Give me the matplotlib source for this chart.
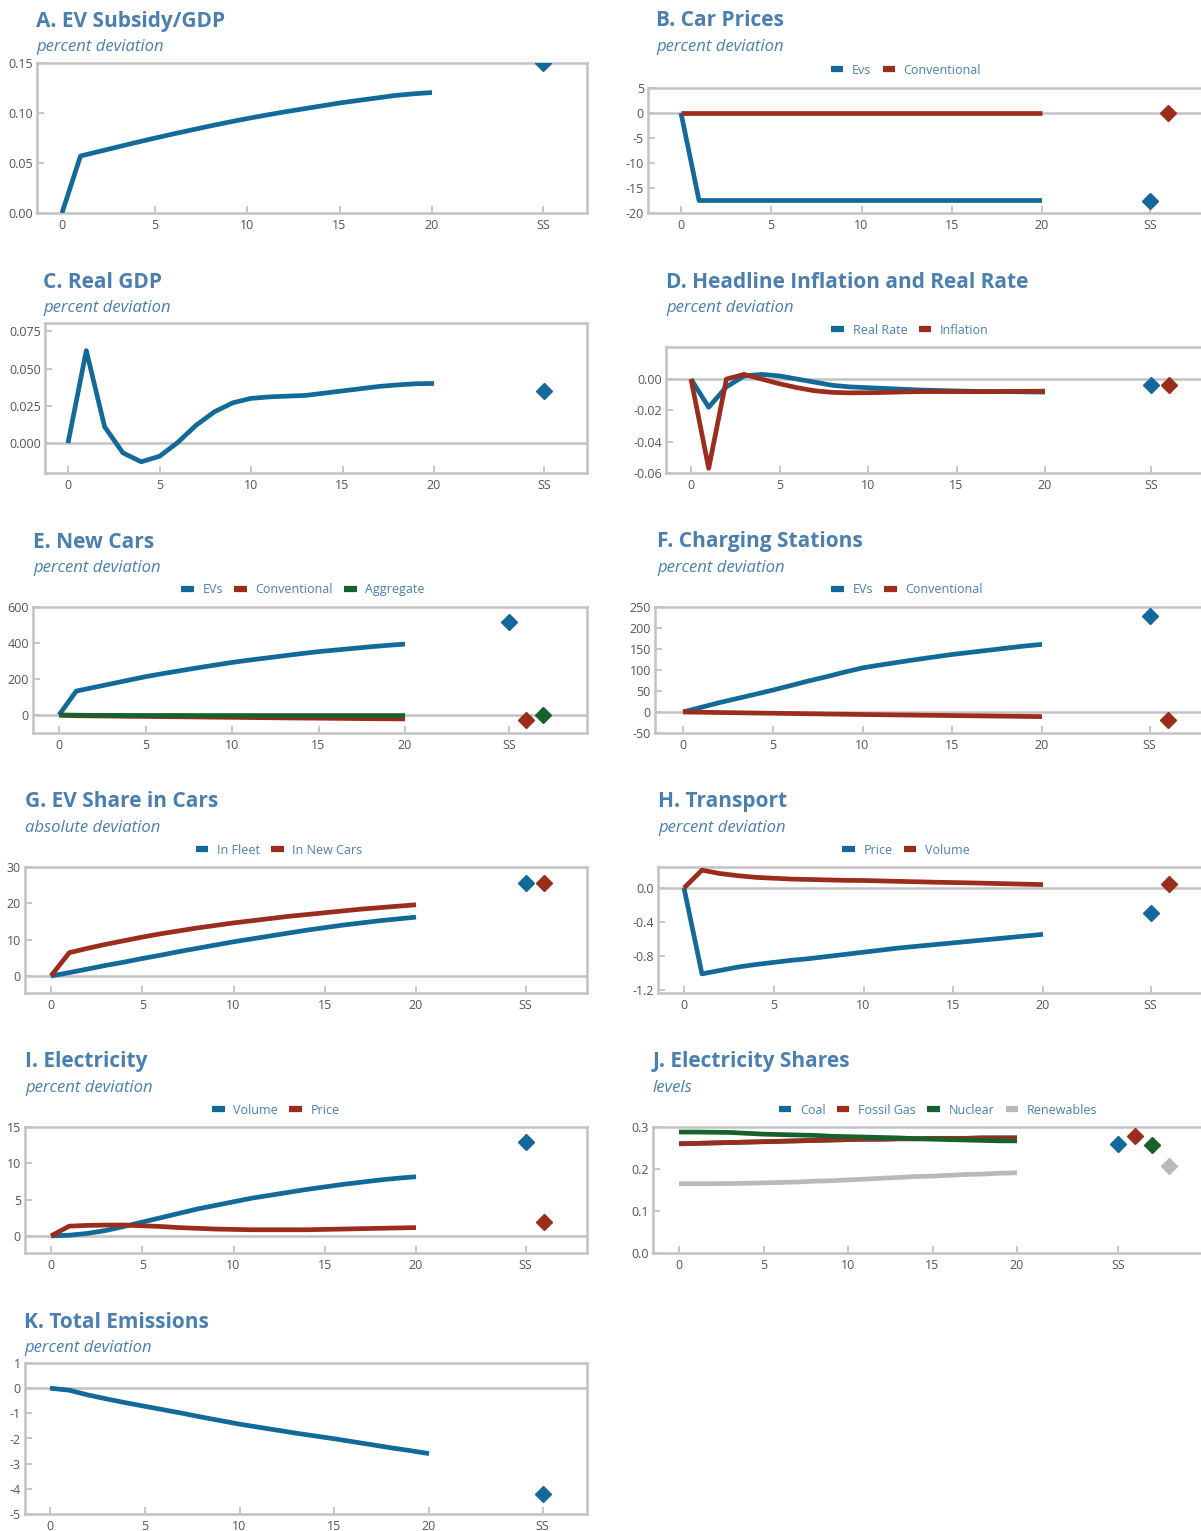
import matplotlib
matplotlib.use("Agg")
import matplotlib.pyplot as plt
from matplotlib.lines import Line2D

plt.rcParams['font.family'] = ['Open Sans', 'DejaVu Sans']
plt.rcParams['axes.unicode_minus'] = False

W, H = 1201, 1531

BLUE = '#13699a'
RED = '#9a2d1b'
GREEN = '#17622c'
LGREY = '#b9b9b9'
TITLE_C = '#4a7fb0'
FRAME = '#c3c3c3'
TICK_C = '#555555'

periods = list(range(21))
ss_pos = 26
xtick_pos = [0, 5, 10, 15, 20, 26]
xtick_lab = ['0', '5', '10', '15', '20', 'SS']

# A. EV subsidy / GDP
subsidy = [0, 0.057, 0.0615, 0.066, 0.0705, 0.0748, 0.079, 0.083, 0.087, 0.0908, 0.0944,
           0.0978, 0.101, 0.104, 0.107, 0.110, 0.1125, 0.115, 0.1175, 0.1192, 0.1205]
subsidy_ss = 0.15

# B. Car prices
price_ev = [0] + [-17.5] * 20
price_conv = [0] * 21
price_ss = [-17.5, 0]

# C. Real GDP
gdp = [0, 0.062, 0.011, -0.0065, -0.0125, -0.0088, 0.0005, 0.012, 0.021, 0.027, 0.030,
       0.031, 0.0315, 0.032, 0.0335, 0.035, 0.0365, 0.038, 0.039, 0.0398, 0.040]
gdp_ss = 0.035

# D. Headline inflation and real rate
real_rate = [0, -0.018, -0.005, 0.002, 0.003, 0.002, 0.0, -0.002, -0.004, -0.005, -0.0055,
             -0.006, -0.0065, -0.007, -0.0073, -0.0076, -0.0078, -0.008, -0.008, -0.0082, -0.0083]
inflation = [0, -0.057, 0.0, 0.003, 0.0, -0.003, -0.0055, -0.0075, -0.0085, -0.0088, -0.0087,
             -0.0085, -0.0082, -0.008, -0.008, -0.008, -0.008, -0.008, -0.0079, -0.0078, -0.0077]
infl_ss = [-0.004, -0.004]

# E. New cars
new_ev = [0, 133, 153, 173, 193, 213, 230, 246, 262, 277, 292,
          305, 317, 329, 341, 352, 361, 370, 379, 387, 394]
new_conv = [0, -4, -5, -6, -7, -8, -9, -10, -11, -12, -13,
            -14, -15, -16, -17, -17.5, -18.5, -19.5, -20.5, -21, -22]
new_agg = [0, -1, -2, -2, -2.5, -2.5, -2.5, -2.5, -3, -3, -3,
           -3, -3, -3, -3, -3, -3, -3, -3, -3, -3]
new_ss = [515, -25, 0]

# F. Charging stations
stat_ev = [0, 11, 22, 32, 42, 52, 63, 74, 84, 95, 105,
           112, 118.5, 125, 131, 137, 142, 147, 152, 157, 161]
stat_conv = [0, -0.6, -1.2, -1.8, -2.4, -3, -3.6, -4.2, -4.8, -5.4, -6,
             -6.5, -7, -7.5, -8, -8.5, -9, -9.5, -10, -10.5, -11]
stat_ss = [228, -19]

# G. EV share in cars
share_fleet = [0, 0.9, 1.9, 2.9, 3.8, 4.8, 5.7, 6.7, 7.6, 8.5, 9.4,
               10.2, 11.0, 11.8, 12.6, 13.3, 14.0, 14.6, 15.2, 15.7, 16.2]
share_new = [0, 6.4, 7.6, 8.7, 9.7, 10.7, 11.6, 12.4, 13.2, 13.9, 14.6,
             15.2, 15.8, 16.4, 16.9, 17.4, 17.9, 18.4, 18.8, 19.2, 19.6]
share_ss = [25.6, 25.6]

# H. Transport
tr_price = [0, -1.01, -0.97, -0.93, -0.90, -0.875, -0.85, -0.83, -0.805, -0.78, -0.755,
            -0.73, -0.705, -0.685, -0.665, -0.645, -0.625, -0.605, -0.585, -0.565, -0.545]
tr_volume = [0, 0.21, 0.17, 0.145, 0.125, 0.115, 0.105, 0.10, 0.095, 0.09, 0.088,
             0.083, 0.078, 0.073, 0.068, 0.064, 0.06, 0.055, 0.05, 0.045, 0.04]
tr_ss = [-0.29, 0.05]

# I. Electricity
el_volume = [0, 0.1, 0.35, 0.75, 1.3, 1.9, 2.5, 3.1, 3.7, 4.2, 4.7,
             5.2, 5.6, 6.0, 6.4, 6.75, 7.1, 7.4, 7.7, 7.95, 8.15]
el_price = [0, 1.35, 1.45, 1.5, 1.5, 1.4, 1.3, 1.15, 1.05, 0.95, 0.9,
            0.85, 0.85, 0.85, 0.85, 0.9, 0.95, 1.0, 1.05, 1.1, 1.15]
el_ss = [12.9, 1.95]

# J. Electricity shares
sh_gas = [0.260, 0.261, 0.262, 0.263, 0.264, 0.265, 0.266, 0.267, 0.268, 0.269, 0.270,
          0.271, 0.271, 0.272, 0.272, 0.273, 0.273, 0.273, 0.274, 0.274, 0.274]
sh_coal = list(sh_gas)
sh_nuclear = [0.288, 0.288, 0.2875, 0.287, 0.285, 0.283, 0.282, 0.281, 0.280, 0.278, 0.277,
              0.276, 0.275, 0.274, 0.272, 0.271, 0.270, 0.269, 0.268, 0.267, 0.267]
sh_renew = [0.165, 0.165, 0.165, 0.1655, 0.166, 0.167, 0.168, 0.169, 0.171, 0.172, 0.174,
            0.176, 0.178, 0.180, 0.182, 0.183, 0.185, 0.187, 0.188, 0.190, 0.191]
sh_ss = [0.260, 0.278, 0.256, 0.207]

# K. Total emissions
emis = [0, -0.08, -0.27, -0.43, -0.58, -0.72, -0.86, -1.0, -1.15, -1.29, -1.43,
        -1.55, -1.67, -1.79, -1.9, -2.01, -2.13, -2.25, -2.37, -2.48, -2.6]
emis_ss = -4.2

fig = plt.figure(figsize=(W / 100, H / 100), dpi=100)


def make_axes(left, top, right, bottom, x0, x20, ylim, yticks, ylabels, zero=True, open_right=False):
    ax = fig.add_axes([left / W, 1 - bottom / H, (right - left) / W, (bottom - top) / H])
    step = (x20 - x0) / 20.0
    ax.set_xlim((left - x0) / step, (right - x0) / step)
    ax.set_ylim(*ylim)
    ax.set_xticks(xtick_pos)
    ax.set_xticklabels(xtick_lab)
    ax.set_yticks(yticks)
    ax.set_yticklabels(ylabels)
    for s in ax.spines.values():
        s.set_color(FRAME)
        s.set_linewidth(1.8)
    if open_right:
        ax.spines['right'].set_visible(False)
    ax.tick_params(direction='in', length=5, width=1.3, color=FRAME,
                   labelsize=9, labelcolor=TICK_C, pad=4)
    ax.tick_params(axis='y', pad=3)
    if zero:
        ax.axhline(0, color=FRAME, lw=1.8, zorder=1)
    return ax


def titles(x, y, title, sub):
    fig.text(x / W, 1 - y / H, title, fontsize=15, fontweight='bold', color=TITLE_C, va='center')
    fig.text(x / W, 1 - (y + 26) / H, sub, fontsize=12, style='italic', color=TITLE_C, va='center')


def lines(ax, series, colors):
    for vals, c in zip(series, colors):
        ax.plot(periods, vals, color=c, lw=3.4, solid_capstyle='butt', zorder=3)


def diamonds(ax, vals, colors):
    for k, (v, c) in enumerate(zip(vals, colors)):
        ax.plot(ss_pos + k, v, 'D', color=c, ms=8.5, zorder=4)


def legend(ax, labels, colors, cx, cy):
    handles = [Line2D([], [], color=c, lw=4.5, solid_capstyle='butt') for c in colors]
    ax.legend(handles, labels, loc='center', bbox_to_anchor=(cx / W, 1 - cy / H),
              bbox_transform=fig.transFigure, ncol=len(labels), frameon=False,
              handlelength=1.0, handletextpad=0.7, columnspacing=0.9,
              fontsize=9, labelcolor=TITLE_C)


# A
ax = make_axes(37, 63, 587, 213, 62, 432, (0, 0.15), [0, 0.05, 0.10, 0.15],
               ['0.00', '0.05', '0.10', '0.15'], zero=False)
titles(36, 21, 'A. EV Subsidy/GDP', 'percent deviation')
lines(ax, [subsidy], [BLUE])
diamonds(ax, [subsidy_ss], [BLUE])

# B
ax = make_axes(648, 88, 1201, 213, 681, 1042, (-20, 5), [5, 0, -5, -10, -15, -20],
               ['5', '0', '-5', '-10', '-15', '-20'], open_right=True)
titles(656, 21, 'B. Car Prices', 'percent deviation')
lines(ax, [price_ev, price_conv], [BLUE, RED])
diamonds(ax, price_ss, [BLUE, RED])
legend(ax, ['Evs', 'Conventional'], [BLUE, RED], 906, 70)

# C
ax = make_axes(45, 323, 587, 473, 68, 434, (-0.02, 0.0805), [0, 0.025, 0.05, 0.075],
               ['0.000', '0.025', '0.050', '0.075'])
titles(43, 282, 'C. Real GDP', 'percent deviation')
lines(ax, [gdp], [BLUE])
diamonds(ax, [gdp_ss], [BLUE])

# D
ax = make_axes(666, 347, 1201, 473, 691, 1045, (-0.06, 0.0205), [0, -0.02, -0.04, -0.06],
               ['0.00', '-0.02', '-0.04', '-0.06'], open_right=True)
titles(666, 282, 'D. Headline Inflation and Real Rate', 'percent deviation')
lines(ax, [real_rate, inflation], [BLUE, RED])
diamonds(ax, infl_ss, [BLUE, RED])
legend(ax, ['Real Rate', 'Inflation'], [BLUE, RED], 910, 330)

# E
ax = make_axes(33, 607, 587, 733, 59, 405, (-100, 600), [0, 200, 400, 600],
               ['0', '200', '400', '600'])
titles(33, 542, 'E. New Cars', 'percent deviation')
lines(ax, [new_ev, new_conv, new_agg], [BLUE, RED, GREEN])
diamonds(ax, new_ss, [BLUE, RED, GREEN])
legend(ax, ['EVs', 'Conventional', 'Aggregate'], [BLUE, RED, GREEN], 303, 590)

# F
ax = make_axes(655, 607, 1201, 733, 683, 1042, (-50, 250), [-50, 0, 50, 100, 150, 200, 250],
               ['-50', '0', '50', '100', '150', '200', '250'], open_right=True)
titles(657, 542, 'F. Charging Stations', 'percent deviation')
lines(ax, [stat_ev, stat_conv], [BLUE, RED])
diamonds(ax, stat_ss, [BLUE, RED])
legend(ax, ['EVs', 'Conventional'], [BLUE, RED], 907, 590)

# G
ax = make_axes(25, 867, 587, 993, 51, 416, (-4.7, 30), [0, 10, 20, 30],
               ['0', '10', '20', '30'])
titles(25, 802, 'G. EV Share in Cars', 'absolute deviation')
lines(ax, [share_fleet, share_new], [BLUE, RED])
diamonds(ax, share_ss, [BLUE, RED])
legend(ax, ['In Fleet', 'In New Cars'], [BLUE, RED], 279, 850)

# H
ax = make_axes(658, 867, 1201, 993, 684, 1043, (-1.235, 0.247), [0, -0.4, -0.8, -1.2],
               ['0.0', '-0.4', '-0.8', '-1.2'], open_right=True)
titles(658, 802, 'H. Transport', 'percent deviation')
lines(ax, [tr_price, tr_volume], [BLUE, RED])
diamonds(ax, tr_ss, [BLUE, RED])
legend(ax, ['Price', 'Volume'], [BLUE, RED], 906, 850)

# I
ax = make_axes(25, 1127, 587, 1253, 51, 416, (-2.35, 15), [0, 5, 10, 15],
               ['0', '5', '10', '15'])
titles(25, 1062, 'I. Electricity', 'percent deviation')
lines(ax, [el_volume, el_price], [BLUE, RED])
diamonds(ax, el_ss, [BLUE, RED])
legend(ax, ['Volume', 'Price'], [BLUE, RED], 276, 1110)

# J
ax = make_axes(653, 1127, 1201, 1253, 679, 1017, (0, 0.3), [0, 0.1, 0.2, 0.3],
               ['0.0', '0.1', '0.2', '0.3'], zero=False, open_right=True)
titles(653, 1062, 'J. Electricity Shares', 'levels')
lines(ax, [sh_coal, sh_gas, sh_nuclear, sh_renew], [BLUE, RED, GREEN, LGREY])
diamonds(ax, sh_ss, [BLUE, RED, GREEN, LGREY])
legend(ax, ['Coal', 'Fossil Gas', 'Nuclear', 'Renewables'], [BLUE, RED, GREEN, LGREY], 938, 1110)

# K
ax = make_axes(25, 1363, 587, 1514, 50, 429, (-5, 1), [1, 0, -1, -2, -3, -4, -5],
               ['1', '0', '-1', '-2', '-3', '-4', '-5'])
titles(24, 1322, 'K. Total Emissions', 'percent deviation')
lines(ax, [emis], [BLUE])
diamonds(ax, [emis_ss], [BLUE])

fig.savefig('out.png', dpi=100)
